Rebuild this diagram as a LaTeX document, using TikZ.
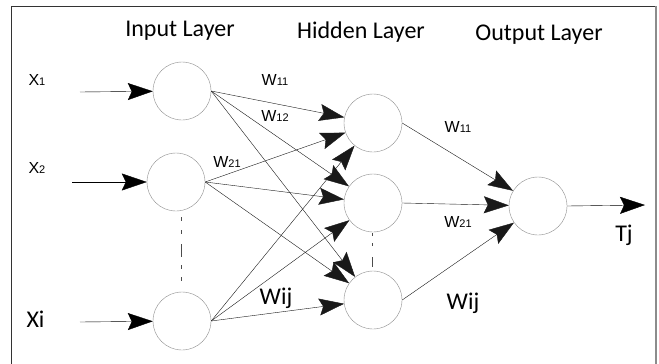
\documentclass[tikz,border=0pt]{standalone}
\usepackage{fontspec}
\setmainfont{Liberation Sans}
\newfontfamily\calib{Carlito}
\usetikzlibrary{arrows.meta}
\tikzset{
  neuron/.style={circle,draw=black!45,minimum size=58pt,inner sep=0pt},
  fleche/.style={-{Stealth[length=25pt,width=17pt,inset=4pt]}},
  titre/.style={font=\calib\fontsize{24}{28}\selectfont,anchor=base},
  poids/.style={font=\fontsize{16}{18}\selectfont},
  grand/.style={font=\calib\fontsize{24}{28}\selectfont}
}
\newcommand{\ind}[1]{{\fontsize{11}{13}\selectfont #1}}
\begin{document}
\begin{tikzpicture}[x=1pt,y=-1pt]
% Réseau de neurones à une couche cachée
\useasboundingbox (0,0) rectangle (659,364);
\draw[black!80] (11,364) -- (11,6) -- (656,6);
\draw[black!45,line width=1.5pt] (656,6) -- (656,364);
\node[titre] (tin) at (180,36) {Input Layer};
\node[titre] (thid) at (361,38) {Hidden Layer};
\node[titre] (tout) at (539,40) {Output Layer};
\node[neuron] (in1) at (182,91) {};
\node[neuron] (in2) at (176,182) {};
\node[neuron] (in3) at (182,321) {};
\node[neuron] (hid1) at (373,123) {};
\node[neuron] (hid2) at (373,203) {};
\node[neuron] (hid3) at (373,300) {};
\node[neuron] (out) at (538,206) {};
\coordinate (e1) at (80,92);
\coordinate (e2) at (72,182);
\coordinate (e3) at (80,322);
\coordinate (s) at (645,205);
\node[poids,anchor=west] (x1) at (25,80) {X\ind{1}};
\node[poids,anchor=west] (x2) at (25,168) {X\ind{2}};
\node[grand,anchor=west] (xi) at (23,319) {Xi};
\node[grand] (tj) at (624,235) {Tj};
\draw[fleche] (e1) -- (in1);
\draw[fleche] (e2) -- (in2);
\draw[fleche] (e3) -- (in3);
\foreach \i in {1,2,3}
  \foreach \j in {1,2,3}
    \draw[fleche,black!90] (in\i.east) -- (hid\j);
\foreach \j in {1,2,3}
  \draw[fleche,black!90] (hid\j.east) -- (out);
\draw[fleche] (out.east) -- (s);
\node[poids] (w11) at (275,80) {W\ind{11}};
\node[poids] (w12) at (275,116) {W\ind{12}};
\node[poids] (w21) at (227,162) {W\ind{21}};
\node[grand] (wij) at (276,298) {Wij};
\node[poids] (v11) at (458,127) {W\ind{11}};
\node[poids] (v21) at (458,222) {W\ind{21}};
\node[grand] (vij) at (463,303) {Wij};
\draw[black!70] (181,217) -- (181,221) (181,230) -- (181,234)
  (181,244) -- (181,257) (181,265) -- (181,269) (181,277) -- (181,281);
\draw[black!70] (372,233) -- (372,236) (372,243) -- (372,246)
  (372,257) -- (372,267);
\end{tikzpicture}
\end{document}
